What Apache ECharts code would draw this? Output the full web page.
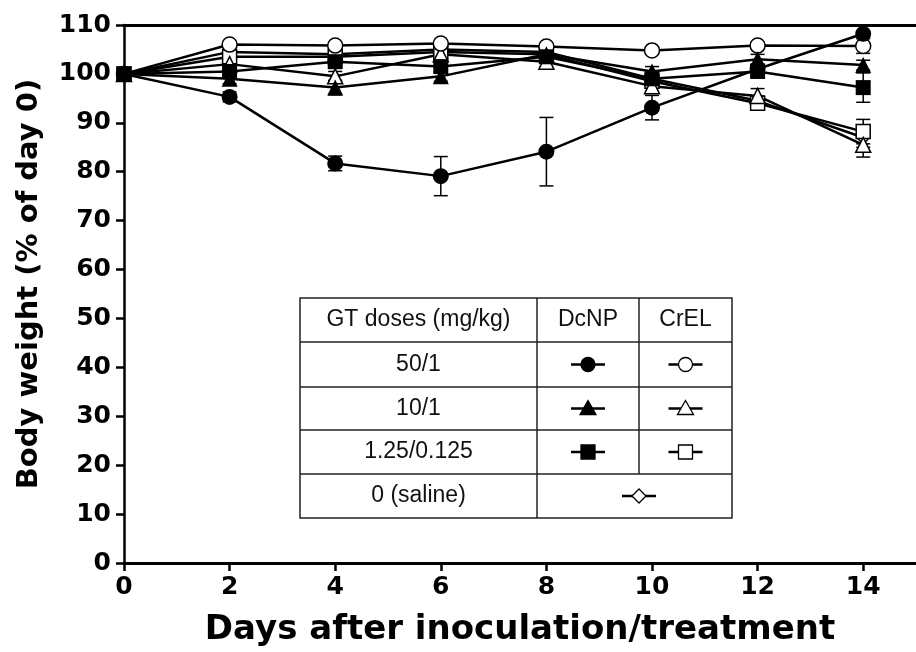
<!DOCTYPE html>
<html>
<head>
<meta charset="utf-8">
<script src="https://cdn.jsdelivr.net/npm/echarts@6/dist/echarts.min.js"></script>
<style>html,body{margin:0;padding:0;background:#fff}#c{width:916px;height:652px}</style>
</head>
<body>
<div id="c"></div>
<script>
// ---- data ----
const days = [0, 2, 4, 6, 8, 10, 12, 14];
const xTicks = [0, 2, 4, 6, 8, 10, 12, 14];
const yTicks = [0, 10, 20, 30, 40, 50, 60, 70, 80, 90, 100, 110];

const dcnp50 = [100, 95.3, 81.7, 79.1, 84.1, 93.1, 101, 108.2];
const dcnp50Err = [0, 1, 1.5, 4, 7, 2.5, 1, 0.5];
const crel50 = [100, 106, 105.8, 106.2, 105.6, 104.8, 105.8, 105.7];
const crel50Err = [0, 0.5, 0.5, 0.5, 0.5, 0.5, 0.5, 1.5];
const dcnp10 = [100, 99, 97.2, 99.5, 104, 100.5, 103, 101.8];
const dcnp10Err = [0, 1, 1.5, 1, 1, 1, 1, 1];
const crel10 = [100, 102, 99.5, 104, 102.5, 97.5, 95.5, 85.5];
const crel10Err = [0, 1, 1, 1, 1, 1, 1.5, 2.5];
const dcnp125 = [100, 100.5, 102.5, 101.5, 103.5, 99, 100.5, 97.2];
const dcnp125Err = [0, 1, 1, 1, 1, 1, 1, 3];
const crel125 = [100, 103.5, 103.5, 104.5, 104, 98.5, 94, 88.2];
const crel125Err = [0, 1, 1, 1, 1, 1, 1, 2.5];
const saline = [100, 104.5, 104, 105, 104.5, 99, 94.5, 87];
const salineErr = [0, 1, 1, 1, 1, 1, 1, 2];

const tableHeader = ['GT doses (mg/kg)', 'DcNP', 'CrEL'];
const tableRows = ['50/1', '10/1', '1.25/0.125', '0 (saline)'];

// ---- chart ----
const groups = [
  { name: '0 (saline)', v: saline, e: salineErr, symbol: 'diamond', fill: '#fff', size: 13 },
  { name: 'CrEL 1.25/0.125', v: crel125, e: crel125Err, symbol: 'rect', fill: '#fff', size: 14 },
  { name: 'CrEL 10/1', v: crel10, e: crel10Err, symbol: 'triangle', fill: '#fff', size: 15 },
  { name: 'CrEL 50/1', v: crel50, e: crel50Err, symbol: 'circle', fill: '#fff', size: 15 },
  { name: 'DcNP 1.25/0.125', v: dcnp125, e: dcnp125Err, symbol: 'rect', fill: '#000', size: 15 },
  { name: 'DcNP 10/1', v: dcnp10, e: dcnp10Err, symbol: 'triangle', fill: '#000', size: 16 },
  { name: 'DcNP 50/1', v: dcnp50, e: dcnp50Err, symbol: 'circle', fill: '#000', size: 16 }
];

const series = [];
groups.forEach(function (g) {
  series.push({
    name: g.name + ' err',
    type: 'custom',
    z: 2,
    data: days.map(function (d, i) { return [d, g.v[i], g.e[i]]; }),
    renderItem: function (params, api) {
      const x = api.value(0), y = api.value(1), e = api.value(2);
      if (!e) return null;
      const top = api.coord([x, y + e]);
      const bot = api.coord([x, y - e]);
      const w = 7;
      const st = { stroke: '#000', lineWidth: 1.5 };
      return {
        type: 'group',
        children: [
          { type: 'line', shape: { x1: top[0], y1: top[1], x2: bot[0], y2: bot[1] }, style: st },
          { type: 'line', shape: { x1: top[0] - w, y1: top[1], x2: top[0] + w, y2: top[1] }, style: st },
          { type: 'line', shape: { x1: bot[0] - w, y1: bot[1], x2: bot[0] + w, y2: bot[1] }, style: st }
        ]
      };
    }
  });
  series.push({
    name: g.name,
    type: 'line',
    z: 3,
    data: days.map(function (d, i) { return [d, g.v[i]]; }),
    symbol: g.symbol,
    symbolSize: g.size,
    showAllSymbol: true,
    lineStyle: { color: '#000', width: 2.5 },
    itemStyle: { color: g.fill, borderColor: '#000', borderWidth: g.fill === '#fff' ? 1.5 : 0 },
    emphasis: { disabled: true }
  });
});

// ---- legend table (decoration) ----
const tx0 = 300, tx1 = 537, tx2 = 639, tx3 = 732;
const ty = [298, 342, 387, 430, 474, 518];
const lineSt = { stroke: '#222', lineWidth: 1.5 };
const gfx = [];
gfx.push({ type: 'rect', shape: { x: tx0, y: ty[0], width: tx3 - tx0, height: ty[5] - ty[0] }, style: { fill: '#fff', stroke: '#222', lineWidth: 1.5 }, z: 10 });
for (let i = 1; i < 5; i++) {
  gfx.push({ type: 'line', shape: { x1: tx0, y1: ty[i], x2: tx3, y2: ty[i] }, style: lineSt, z: 11 });
}
gfx.push({ type: 'line', shape: { x1: tx1, y1: ty[0], x2: tx1, y2: ty[5] }, style: lineSt, z: 11 });
gfx.push({ type: 'line', shape: { x1: tx2, y1: ty[0], x2: tx2, y2: ty[4] }, style: lineSt, z: 11 });
const txtFont = { fontSize: 23, fontFamily: 'Liberation Sans, Arial, sans-serif', fill: '#111', align: 'center', verticalAlign: 'middle' };
const colC = [(tx0 + tx1) / 2, (tx1 + tx2) / 2, (tx2 + tx3) / 2];
tableHeader.forEach(function (t, i) {
  gfx.push({ type: 'text', x: colC[i], y: (ty[0] + ty[1]) / 2, style: Object.assign({ text: t }, txtFont), z: 12 });
});
tableRows.forEach(function (t, i) {
  gfx.push({ type: 'text', x: colC[0], y: (ty[i + 1] + ty[i + 2]) / 2, style: Object.assign({ text: t }, txtFont), z: 12 });
});
function legendSym(cx, cy, kind, filled) {
  const fill = filled ? '#000' : '#fff';
  const st = { fill: fill, stroke: '#000', lineWidth: 1.3 };
  gfx.push({ type: 'line', shape: { x1: cx - 17, y1: cy, x2: cx + 17, y2: cy }, style: { stroke: '#000', lineWidth: 2.5 }, z: 12 });
  let s;
  if (kind === 'circle') s = { type: 'circle', shape: { cx: cx, cy: cy, r: 7 }, style: st };
  else if (kind === 'triangle') s = { type: 'polygon', shape: { points: [[cx, cy - 8], [cx + 8, cy + 6], [cx - 8, cy + 6]] }, style: st };
  else if (kind === 'rect') s = { type: 'rect', shape: { x: cx - 7, y: cy - 7, width: 14, height: 14 }, style: st };
  else s = { type: 'polygon', shape: { points: [[cx, cy - 7], [cx + 7, cy], [cx, cy + 7], [cx - 7, cy]] }, style: st };
  s.z = 13;
  gfx.push(s);
}
const kinds = ['circle', 'triangle', 'rect'];
kinds.forEach(function (k, i) {
  const cy = (ty[i + 1] + ty[i + 2]) / 2;
  legendSym(colC[1], cy, k, true);
  legendSym(colC[2], cy, k, false);
});
legendSym(tx2, (ty[4] + ty[5]) / 2, 'diamond', false);

const axisFont = 'DejaVu Sans, sans-serif';
const chart = echarts.init(document.getElementById('c'), null, { renderer: 'canvas' });
chart.setOption({
  animation: false,
  backgroundColor: '#fff',
  grid: { left: 124, top: 25, width: 799, height: 538, containLabel: false },
  xAxis: [{
    type: 'value', min: 0, max: 15, interval: 2,
    name: 'Days after inoculation/treatment', nameLocation: 'middle', nameGap: 50,
    nameTextStyle: { fontSize: 34, fontWeight: 'bold', fontFamily: axisFont, color: '#000' },
    axisLine: { show: true, onZero: false, lineStyle: { color: '#000', width: 3 } },
    axisTick: { show: true, length: 8, lineStyle: { color: '#000', width: 2.5 } },
    axisLabel: { fontSize: 25, fontWeight: 'bold', fontFamily: axisFont, color: '#000', margin: 12, showMaxLabel: false,
      formatter: function (v) { return xTicks.indexOf(v) >= 0 ? String(v) : ''; } },
    splitLine: { show: false }
  }, {
    type: 'value', min: 0, max: 15, position: 'top',
    axisLine: { show: true, onZero: false, lineStyle: { color: '#000', width: 3 } },
    axisTick: { show: false }, axisLabel: { show: false }, splitLine: { show: false }
  }],
  yAxis: {
    type: 'value', min: 0, max: 110, interval: 10,
    name: 'Body weight (% of day 0)', nameLocation: 'middle', nameGap: 80, nameRotate: 90,
    nameTextStyle: { fontSize: 29, fontWeight: 'bold', fontFamily: axisFont, color: '#000', padding: [0, 0, 0, 20] },
    axisLine: { show: true, lineStyle: { color: '#000', width: 2.5 } },
    axisTick: { show: true, length: 8, lineStyle: { color: '#000', width: 2.5 } },
    axisLabel: { fontSize: 25, fontWeight: 'bold', fontFamily: axisFont, color: '#000', margin: 13,
      formatter: function (v) { return yTicks.indexOf(v) >= 0 ? String(v) : ''; } },
    splitLine: { show: false }
  },
  series: series,
  graphic: gfx
});
</script>
</body>
</html>
